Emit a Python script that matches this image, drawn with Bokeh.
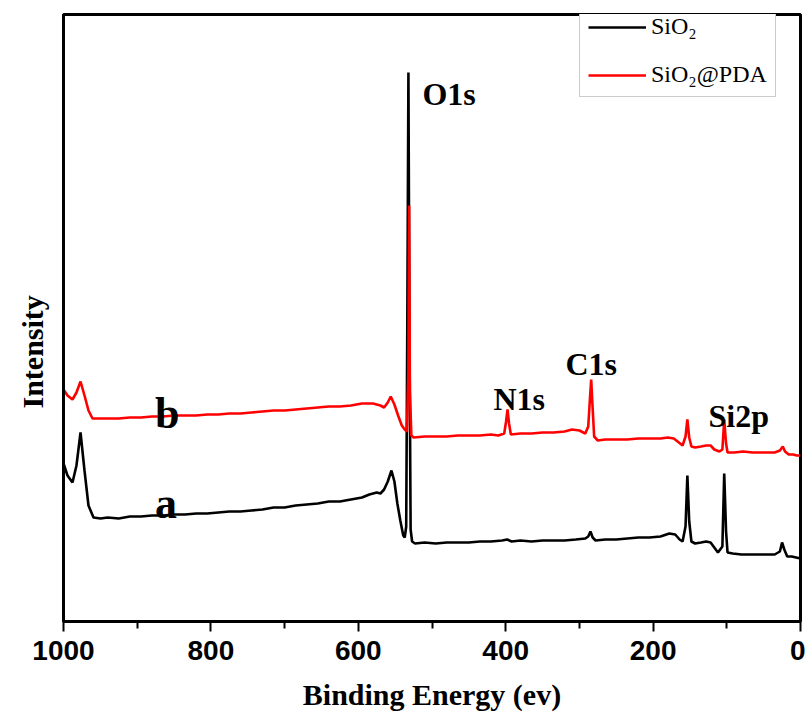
import math
from bokeh.plotting import figure
from bokeh.models import Range1d, FixedTicker, Legend, LegendItem, Title
from bokeh.core.properties import value
from bokeh.embed import file_html
from bokeh.resources import INLINE

# ---- data: XPS survey spectra (binding energy in eV, intensity in arbitrary units) ----
sio2_be = [1000, 994.6, 987.8, 982.4, 976.9, 971.5, 966.1, 959.3, 949.8,
           940, 925, 910, 895, 880, 865, 850, 835, 820, 805, 790, 775, 760, 745, 730, 715,
           700, 685, 670, 655, 640, 625, 610, 595, 585, 575, 570, 565, 560, 555, 551, 547,
           543, 539, 537, 535, 533.5, 532, 530.5, 529, 527, 523,
           510, 495, 480, 465, 450, 435, 420, 405, 398, 392, 380, 365, 350, 335, 320, 305,
           292, 288, 285, 282, 278, 265, 250, 235, 220, 205, 190, 178, 170, 164, 160, 156,
           153.5, 151, 148, 143, 135, 128, 122, 117, 112, 106, 103.5, 101, 99, 92, 80, 65,
           50, 35, 28, 25, 22, 18, 12, 6, 0]
sio2_int = [158, 146, 139, 156, 189, 151, 116, 104, 103,
            104, 103, 105, 105, 106, 106, 107, 107, 108, 108, 109, 110, 110, 111, 112, 114,
            114, 116, 117, 118, 120, 120, 122, 124, 127, 129, 128, 132, 140, 151, 140, 118,
            101, 86, 84, 95, 300, 549, 280, 92, 80, 78,
            79, 78, 79, 79, 79, 80, 80, 81, 82, 80, 81, 80, 81, 81, 81, 82,
            83, 85, 90, 84, 81, 82, 82, 83, 84, 84, 85, 88, 87, 82, 80, 95,
            146, 100, 80, 78, 79, 80, 79, 74, 69, 75, 148, 90, 69, 68, 67, 67,
            67, 67, 70, 79, 72, 65, 65, 64, 63]

pda_be = [1000, 994.6, 987.8, 982.4, 976.9, 971.5, 966.1, 960.6, 950,
          940, 925, 910, 895, 880, 865, 850, 835, 820, 805, 790, 775, 760, 745, 730, 715,
          700, 685, 670, 655, 640, 625, 610, 595, 580, 570, 565, 560, 556, 551, 546, 541,
          537, 534, 532, 531, 530, 528, 525,
          510, 495, 480, 465, 450, 435, 420, 410, 402, 399.5, 397.5, 395.5, 393, 380, 365,
          350, 335, 320, 310, 300, 292, 288, 285.5, 284, 282.5, 280, 275, 265, 250, 235,
          220, 205, 190, 180, 172, 165, 160, 156, 153.5, 151, 148, 143, 135, 128, 122, 117,
          110, 106, 103.5, 101, 99, 90, 78, 65, 50, 35, 28, 24, 21, 16, 10, 5, 0]
pda_int = [232, 226, 222, 229, 240, 226, 211, 203, 203,
           203, 203, 204, 204, 205, 205, 206, 206, 206, 207, 207, 208, 208, 209, 210, 211,
           211, 212, 213, 214, 215, 215, 216, 218, 218, 216, 214, 219, 225, 217, 206, 196,
           192, 190, 250, 416, 230, 186, 184,
           185, 185, 185, 186, 186, 186, 187, 186, 188, 200, 212, 198, 187, 188, 188,
           189, 189, 190, 192, 191, 188, 195, 225, 242, 220, 185, 181, 182, 182, 182,
           183, 183, 183, 184, 183, 179, 176, 185, 202, 184, 175, 174, 175, 176, 176, 172,
           170, 172, 202, 178, 169, 169, 170, 169, 169, 169, 171, 175, 170, 167, 167, 166, 166]

series_names = ["SiO\u2082", "SiO\u2082@PDA"]
series_colors = ["#000000", "#ff0000"]

peak_labels = ["O1s", "N1s", "C1s", "Si2p"]
peak_label_be = [513, 416.6, 319, 124.8]
peak_label_int = [528, 223, 258, 206]

curve_labels = ["b", "a"]
curve_label_be = [876, 876]
curve_label_int = [208, 118]

x_ticks = [0, 200, 400, 600, 800, 1000]
x_minor = [100, 300, 500, 700, 900]

# ---- figure ----
p = figure(width=805, height=713, x_range=Range1d(1000, 0), y_range=Range1d(0, 607),
           output_backend="svg", toolbar_location=None,
           min_border_left=63, min_border_right=5, min_border_top=14, min_border_bottom=92)
p.background_fill_color = "white"
p.border_fill_color = "white"
p.outline_line_color = "black"
p.outline_line_width = 3
p.xgrid.visible = False
p.ygrid.visible = False

r1 = p.line(sio2_be, sio2_int, line_color=series_colors[0], line_width=2.6)
r2 = p.line(pda_be, pda_int, line_color=series_colors[1], line_width=2.6)

p.text(x=peak_label_be, y=peak_label_int, text=peak_labels,
       text_font=value("Liberation Serif"), text_font_style="bold", text_font_size="32px",
       text_align="left", text_baseline="alphabetic", text_color="black")
p.text(x=curve_label_be, y=curve_label_int, text=curve_labels,
       text_font=value("Liberation Serif"), text_font_style="bold", text_font_size="44px",
       text_align="left", text_baseline="alphabetic", text_color="black")

# x axis
xa = p.xaxis[0]
xa.ticker = FixedTicker(ticks=x_ticks, minor_ticks=x_minor)
xa.axis_line_width = 3
xa.major_tick_line_width = 2
xa.minor_tick_line_width = 2
xa.major_tick_out = 10
xa.major_tick_in = 0
xa.minor_tick_out = 7
xa.minor_tick_in = 0
xa.major_label_text_font = "Liberation Sans"
xa.major_label_text_font_style = "bold"
xa.major_label_text_font_size = "28px"
xa.major_label_text_color = "black"
xa.major_label_standoff = 9
xa.axis_label = "Binding Energy (ev)"
xa.axis_label_text_font = "Liberation Serif"
xa.axis_label_text_font_style = "bold"
xa.axis_label_text_font_size = "30px"
xa.axis_label_text_color = "black"
xa.axis_label_standoff = 15

# y axis: no ticks
ya = p.yaxis[0]
ya.ticker = FixedTicker(ticks=[])
ya.axis_line_width = 3
ya.major_tick_line_color = None
ya.minor_tick_line_color = None
ya.major_tick_out = 0
ya.minor_tick_out = 0
ya.major_label_standoff = 0
ya.major_label_text_font_size = "0px"

# y title, shifted downwards along the axis as in the original
ytitle = Title(text="Intensity", align="left", offset=213, standoff=26,
               vertical_align="top",
               text_font="Liberation Serif", text_font_style="bold",
               text_font_size="30px", text_color="black")
p.add_layout(ytitle, "left")

legend = Legend(items=[LegendItem(label=series_names[0], renderers=[r1]),
                       LegendItem(label=series_names[1], renderers=[r2])],
                location=(516, 524))
legend.label_text_font = "Liberation Serif"
legend.label_text_font_size = "24px"
legend.label_text_color = "black"
legend.glyph_width = 58
legend.glyph_height = 20
legend.label_height = 20
legend.spacing = 21
legend.padding = 8
legend.margin = 0
legend.label_standoff = 5
legend.border_line_color = "#999999"
legend.border_line_width = 1.5
legend.background_fill_color = "white"
legend.background_fill_alpha = 1.0
p.add_layout(legend)

open("out.html", "w").write(file_html(p, INLINE))
